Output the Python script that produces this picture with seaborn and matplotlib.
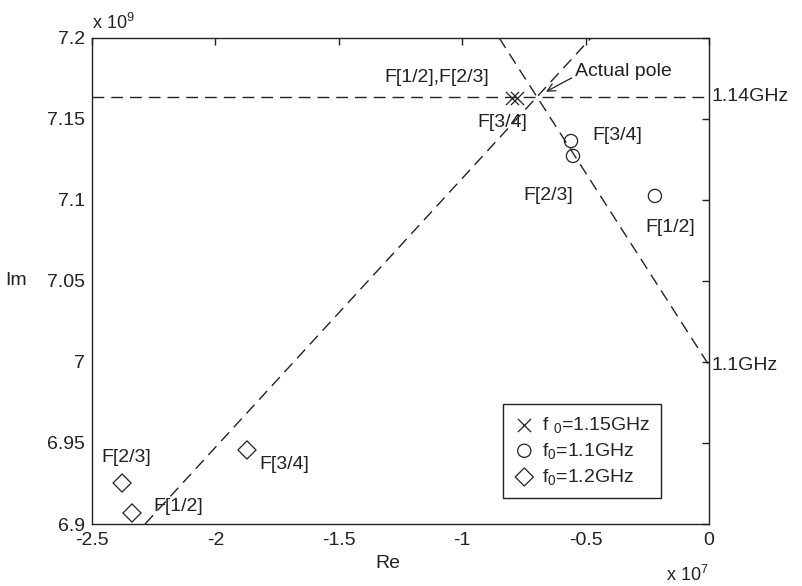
import matplotlib
matplotlib.use("Agg")
import matplotlib.pyplot as plt
import seaborn as sns
from matplotlib.ticker import FuncFormatter, MultipleLocator

# Pole estimates (Re in units of 1e7, Im in units of 1e9)
re_115 = [-0.798, -0.778]
im_115 = [7.1632, 7.1632]
re_110 = [-0.559, -0.551, -0.219]
im_110 = [7.1364, 7.1272, 7.1025]
re_120 = [-1.872, -2.378, -2.338]
im_120 = [6.9457, 6.9253, 6.9068]

legend_labels = ["f $_0$=1.15GHz", "f$_0$=1.1GHz", "f$_0$=1.2GHz"]

# Actual pole and the constant-frequency guide lines
pole_re, pole_im = -0.70, 7.1636
line_114_im = 7.1636
line_110_re = [-0.85, 0.0]
line_110_im = [7.2, 6.998]
line_diag_re = [-2.285, -0.478]
line_diag_im = [6.9, 7.2]

# Point annotations: text, Re, Im
point_labels = [
    ("F[1/2],F[2/3]", -1.317, 7.1753),
    ("F[3/4]", -0.940, 7.148),
    ("F[3/4]", -0.474, 7.140),
    ("F[2/3]", -0.754, 7.103),
    ("F[1/2]", -0.259, 7.083),
    ("F[2/3]", -2.460, 6.941),
    ("F[3/4]", -1.823, 6.937),
    ("F[1/2]", -2.253, 6.911),
]

sns.set_style("white")
plt.rcParams["font.family"] = ["Liberation Sans", "DejaVu Sans"]
plt.rcParams["axes.unicode_minus"] = False
plt.rcParams["mathtext.fontset"] = "custom"
plt.rcParams["mathtext.rm"] = "Liberation Sans"
plt.rcParams["mathtext.it"] = "Liberation Sans"

FS = 14
INK = "#222222"
fig = plt.figure(figsize=(8.02, 5.86), dpi=100)
ax = fig.add_axes([0.1147, 0.1058, 0.7693, 0.8294])

dash = (8.5, 5)
ax.axhline(line_114_im, color=INK, lw=1.0, dashes=dash, zorder=1)
sns.lineplot(x=line_110_re, y=line_110_im, ax=ax, color=INK, lw=1.0,
             zorder=1).lines[-1].set_dashes(dash)
sns.lineplot(x=line_diag_re, y=line_diag_im, ax=ax, color=INK, lw=1.0,
             zorder=1).lines[-1].set_dashes(dash)

sns.scatterplot(x=re_115, y=im_115, ax=ax, marker="x", s=90, color=INK,
                linewidth=0.9, label=legend_labels[0], zorder=3)
sns.scatterplot(x=re_110, y=im_110, ax=ax, marker="o", s=90, facecolor="none",
                edgecolor=INK, linewidth=0.9, label=legend_labels[1], zorder=3)
sns.scatterplot(x=re_120, y=im_120, ax=ax, marker="D", s=85, facecolor="none",
                edgecolor=INK, linewidth=0.9, label=legend_labels[2], zorder=3)

for txt, xr, yi in point_labels:
    ax.text(xr, yi, txt, fontsize=FS, ha="left", va="center", color=INK)

ax.annotate("Actual pole", xy=(pole_re, pole_im), xytext=(-0.543, 7.1796),
            fontsize=FS, ha="left", va="center", color=INK,
            arrowprops=dict(arrowstyle="->", color=INK, lw=0.9,
                            shrinkA=0, shrinkB=8, relpos=(0.0, 0.2)))

ax.text(0.012, line_114_im, "1.14GHz", fontsize=FS, ha="left", va="center",
        color=INK, clip_on=False)
ax.text(0.012, line_110_im[1], "1.1GHz", fontsize=FS, ha="left", va="center",
        color=INK, clip_on=False)

ax.set_xlim(-2.5, 0)
ax.set_ylim(6.9, 7.2)
ax.xaxis.set_major_locator(MultipleLocator(0.5))
ax.yaxis.set_major_locator(MultipleLocator(0.05))
fmt = FuncFormatter(lambda v, p: "%g" % round(v, 4))
ax.xaxis.set_major_formatter(fmt)
ax.yaxis.set_major_formatter(fmt)
ax.tick_params(direction="in", length=5, width=1, top=True, right=True,
               labelsize=FS, colors=INK)
ax.tick_params(axis="x", pad=6)
ax.tick_params(axis="y", pad=5)
for sp in ax.spines.values():
    sp.set_visible(True)
    sp.set_color(INK)
    sp.set_linewidth(1.0)

ax.set_xlabel("Re", fontsize=FS, color=INK)
ax.xaxis.set_label_coords(0.48, -0.064)
ax.set_ylabel("Im", fontsize=FS, color=INK, rotation=0, va="center",
              ha="center")
ax.yaxis.set_label_coords(-0.123, 0.5)

ax.text(0.0, 1.01, "x 10$^9$", transform=ax.transAxes, fontsize=FS - 1,
        ha="left", va="bottom", color=INK)
ax.text(1.0, -0.085, "x 10$^7$", transform=ax.transAxes, fontsize=FS - 1,
        ha="right", va="top", color=INK)

leg = ax.legend(loc="upper left", bbox_to_anchor=(0.666, 0.247),
                borderaxespad=0, fontsize=FS, frameon=True, fancybox=False,
                handletextpad=0.35, handlelength=1.1, labelspacing=0.32,
                borderpad=0.55)
leg.get_frame().set_edgecolor(INK)
leg.get_frame().set_linewidth(1.0)
leg.get_frame().set_alpha(1)

fig.savefig("out.png", dpi=100, facecolor="white")
